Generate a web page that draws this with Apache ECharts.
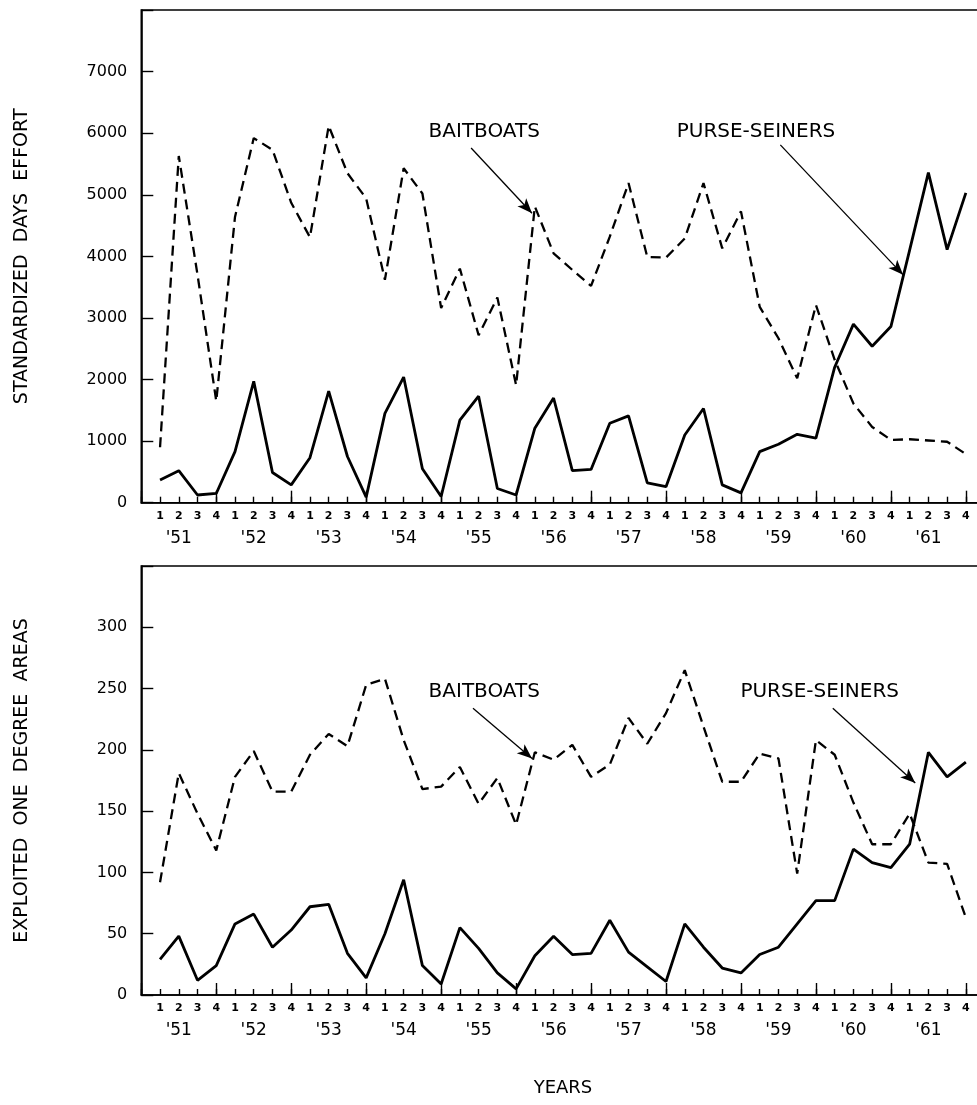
<!DOCTYPE html>
<html>
<head>
<meta charset="utf-8">
<script src="https://cdn.jsdelivr.net/npm/echarts@6/dist/echarts.min.js"></script>
<style>
html,body{margin:0;padding:0;background:#fff;overflow:hidden;}
#chart{width:977px;height:1105px;}
</style>
</head>
<body>
<div id="chart"></div>
<script>
// Quarter and year tick labels
const quarterLabels = ['1', '2', '3', '4'];
const yearLabels = ["'51", "'52", "'53", "'54", "'55", "'56", "'57", "'58", "'59", "'60", "'61"];
const effortTicks = [0, 1000, 2000, 3000, 4000, 5000, 6000, 7000];
const areaTicks = [0, 50, 100, 150, 200, 250, 300];

// Standardized days effort, by quarter 1951-1961
const baitEffort = [
  900, 5630, 3700, 1650,
  4640, 5920, 5730, 4870,
  4310, 6120, 5350, 4940,
  3620, 5430, 5020, 3160,
  3800, 2720, 3330, 1910,
  4810, 4050, 3780, 3520,
  4320, 5190, 3990, 3980,
  4290, 5190, 4130, 4730,
  3180, 2670, 2020, 3210,
  2320, 1610, 1230, 1020,
  1030, 1010, 990, 790
];
const purseEffort = [
  370, 520, 125, 150,
  830, 1970, 490, 290,
  730, 1810, 750, 90,
  1450, 2040, 550, 100,
  1340, 1730, 230, 125,
  1210, 1700, 520, 540,
  1290, 1410, 320, 260,
  1100, 1530, 290, 160,
  830, 950, 1110, 1050,
  2200, 2900, 2540, 2860,
  4100, 5360, 4110, 5030
];

// Exploited one degree areas, by quarter 1951-1961
const baitAreas = [
  92, 181, 148, 118,
  178, 199, 166, 166,
  196, 213, 203, 253,
  258, 208, 168, 170,
  186, 156, 177, 139,
  198, 192, 204, 178,
  188, 226, 205, 230,
  265, 219, 174, 174,
  197, 193, 99, 208,
  196, 157, 123, 123,
  148, 108, 107, 63
];
const purseAreas = [
  29, 48, 12, 24,
  58, 66, 39, 53,
  72, 74, 34, 14,
  50, 94, 24, 9,
  55, 38, 18, 5,
  32, 48, 33, 34,
  61, 35, 23, 11,
  58, 39, 22, 18,
  33, 39, 58, 77,
  77, 119, 108, 104,
  123, 198, 178, 190
];

// Annotation anchors in data units [quarter number, value]
const topBaitText = [18.3, 6030];
const topBaitArrow = [[17.6, 5760], [20.85, 4700]];
const topPurseText = [32.8, 6030];
const topPurseArrow = [[34.1, 5810], [40.65, 3700]];
const botBaitText = [18.3, 247];
const botBaitArrow = [[17.7, 234], [20.85, 193]];
const botPurseText = [36.2, 247];
const botPurseArrow = [[36.9, 234], [41.3, 173]];

const FONT = 'DejaVu Sans';
const toPairs = arr => arr.map((v, i) => [i + 1, v]);

function xAxesFor(gridIndex, withName) {
  const base = {
    type: 'value', gridIndex: gridIndex, min: 0, max: 45, position: 'bottom',
    splitLine: {show: false}, axisLine: {show: false, onZero: false}
  };
  return [
    Object.assign({}, base, {
      interval: 1,
      axisLine: {show: true, onZero: false, lineStyle: {color: '#000', width: 1.6}},
      axisTick: {show: true, inside: true, length: 6, lineStyle: {color: '#000', width: 1.4}},
      axisLabel: {
        show: true, margin: 8, color: '#000', fontFamily: FONT, fontSize: 11, fontWeight: 'bold',
        formatter: v => (v >= 1 && v <= 44 && Number.isInteger(v)) ? quarterLabels[(v - 1) % 4] : ''
      },
      name: withName ? 'YEARS' : '', nameLocation: 'middle', nameGap: 84,
      nameTextStyle: {color: '#000', fontFamily: FONT, fontSize: 18}
    }),
    Object.assign({}, base, {
      interval: 4,
      axisTick: {show: true, inside: true, length: 12, lineStyle: {color: '#000', width: 1.4}},
      axisLabel: {show: false}
    }),
    Object.assign({}, base, {
      interval: 2,
      axisTick: {show: false},
      axisLabel: {
        show: true, margin: 27, color: '#000', fontFamily: FONT, fontSize: 17,
        formatter: v => (v % 4 === 2 && v >= 2 && v <= 42) ? yearLabels[(v - 2) / 4] : ''
      }
    })
  ];
}

function yAxisFor(gridIndex, ticks, step, max, name) {
  return {
    type: 'value', gridIndex: gridIndex, min: 0, max: max, interval: step,
    splitLine: {show: false},
    axisLine: {show: true, lineStyle: {color: '#000', width: 1.6}},
    axisTick: {show: true, inside: true, length: 12, lineStyle: {color: '#000', width: 1.4}},
    axisLabel: {
      margin: 14, color: '#000', fontFamily: FONT, fontSize: 16,
      formatter: v => ticks.indexOf(v) >= 0 ? String(v) : ''
    },
    name: name, nameLocation: 'middle', nameGap: 110,
    nameTextStyle: {color: '#000', fontFamily: FONT, fontSize: 19}
  };
}

function arrowLine(a) {
  return [{coord: a[0], symbol: 'none'}, {coord: a[1], symbol: 'arrow'}];
}
function textPoint(p, txt) {
  return {coord: p, symbol: 'circle', symbolSize: 0,
    label: {show: true, position: 'inside', formatter: txt, color: '#000', fontFamily: FONT, fontSize: 20}};
}
const markLineBase = {
  silent: true, animation: false, symbolSize: [9, 15],
  label: {show: false},
  lineStyle: {color: '#000', width: 1.3, type: 'solid'}
};

const dashed = {color: '#000', width: 2.3, type: [10, 6]};
const solid = {color: '#000', width: 2.8, type: 'solid'};

const gridBase = {show: true, borderColor: '#000', borderWidth: 1.6, backgroundColor: 'transparent',
  containLabel: false, outerBoundsMode: 'none'};

const option = {
  backgroundColor: '#fff',
  animation: false,
  grid: [
    Object.assign({left: 141.3, top: 10, width: 843.3, height: 492.7}, gridBase),
    Object.assign({left: 141.3, top: 566, width: 843.3, height: 429}, gridBase)
  ],
  xAxis: xAxesFor(0, false).concat(xAxesFor(1, true)),
  yAxis: [
    yAxisFor(0, effortTicks, 1000, 8000, 'STANDARDIZED  DAYS  EFFORT'),
    yAxisFor(1, areaTicks, 50, 350, 'EXPLOITED  ONE  DEGREE  AREAS')
  ],
  series: [
    {
      name: 'BAITBOATS', type: 'line', xAxisIndex: 0, yAxisIndex: 0,
      data: toPairs(baitEffort), symbol: 'none', lineStyle: dashed,
      markLine: Object.assign({}, markLineBase, {data: [arrowLine(topBaitArrow), arrowLine(topPurseArrow)]}),
      markPoint: {silent: true, animation: false, data: [textPoint(topBaitText, 'BAITBOATS'), textPoint(topPurseText, 'PURSE-SEINERS')]}
    },
    {
      name: 'PURSE-SEINERS', type: 'line', xAxisIndex: 0, yAxisIndex: 0,
      data: toPairs(purseEffort), symbol: 'none', lineStyle: solid
    },
    {
      name: 'BAITBOATS', type: 'line', xAxisIndex: 3, yAxisIndex: 1,
      data: toPairs(baitAreas), symbol: 'none', lineStyle: dashed,
      markLine: Object.assign({}, markLineBase, {data: [arrowLine(botBaitArrow), arrowLine(botPurseArrow)]}),
      markPoint: {silent: true, animation: false, data: [textPoint(botBaitText, 'BAITBOATS'), textPoint(botPurseText, 'PURSE-SEINERS')]}
    },
    {
      name: 'PURSE-SEINERS', type: 'line', xAxisIndex: 3, yAxisIndex: 1,
      data: toPairs(purseAreas), symbol: 'none', lineStyle: solid
    }
  ]
};

const chart = echarts.init(document.getElementById('chart'), null, {renderer: 'canvas'});
chart.setOption(option);
</script>
</body>
</html>
